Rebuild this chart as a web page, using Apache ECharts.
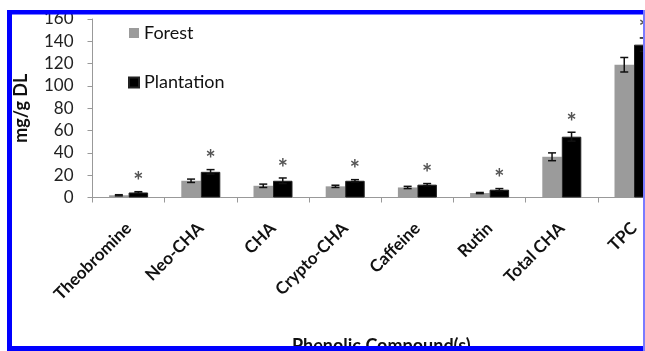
<!DOCTYPE html>
<html>
<head>
<meta charset="utf-8">
<script src="https://cdn.jsdelivr.net/npm/echarts@6/dist/echarts.min.js"></script>
<style>
  html, body { margin: 0; padding: 0; background: #fff; }
  #chart { width: 645px; height: 351px; }
</style>
</head>
<body>
<div id="chart"></div>
<script>
// Phenolic compounds, mg/g DL, forest vs plantation (mean ± error)
const categories = ['Theobromine', 'Neo-CHA', 'CHA', 'Crypto-CHA', 'Caffeine', 'Rutin', 'Total CHA', 'TPC'];
const forest = [2, 15, 10.5, 10, 9, 4, 36.5, 119];
const plantation = [4.5, 23, 15, 15, 11.5, 7, 54.5, 137];
const forestErr = [0.5, 1.5, 1.5, 1, 1, 0.5, 3.5, 6.5];
const plantationErr = [0.7, 2, 2.5, 1, 1, 1, 4, 6];
// '*' marks a significant difference between the two sources
const significant = [true, true, true, true, true, true, true, true];
const yTicks = [0, 20, 40, 60, 80, 100, 120, 140, 160];

const BAR_W = 19.5;
const FONT = 'Lato, "Open Sans", sans-serif';

function errorBars(values, errs, offset) {
  return {
    type: 'custom',
    name: 'err',
    z: 5,
    data: values.map((v, i) => [i, v, errs[i]]),
    encode: { x: 0, y: 1 },
    renderItem(params, api) {
      const i = api.value(0), v = api.value(1), e = api.value(2);
      const x = api.coord([i, v])[0] + offset;
      const top = api.coord([i, v + e])[1];
      const bot = api.coord([i, v - e])[1];
      const cap = 4;
      const style = { stroke: '#111', lineWidth: 1.5 };
      return {
        type: 'group',
        children: [
          { type: 'line', shape: { x1: x, y1: top, x2: x, y2: bot }, style },
          { type: 'line', shape: { x1: x - cap, y1: top, x2: x + cap, y2: top }, style },
          { type: 'line', shape: { x1: x - cap, y1: bot, x2: x + cap, y2: bot }, style }
        ]
      };
    }
  };
}

const stars = {
  type: 'custom',
  name: 'sig',
  z: 6,
  data: plantation.map((v, i) => [i, v + plantationErr[i], significant[i] ? 1 : 0]),
  encode: { x: 0, y: 1 },
  renderItem(params, api) {
    if (!api.value(2)) return null;
    const p = api.coord([api.value(0), api.value(1)]);
    return {
      type: 'text',
      x: p[0] + BAR_W / 2,
      y: p[1] - 21,
      style: { text: '*', fill: '#555', font: 'bold 24px ' + FONT, align: 'center', verticalAlign: 'top' }
    };
  }
};

const blue = '#0000ff';
const chart = echarts.init(document.getElementById('chart'));
chart.setOption({
  animation: false,
  backgroundColor: '#fff',
  grid: { left: 92.5, top: 19, width: 577.6, height: 178.5, containLabel: false, outerBoundsMode: 'none' },
  legend: {
    data: ['Forest', 'Plantation'],
    orient: 'vertical',
    left: 123,
    top: 18,
    itemWidth: 10,
    itemHeight: 10,
    itemGap: 29.5,
    icon: 'rect',
    textStyle: { fontFamily: FONT, fontSize: 18, color: '#111', lineHeight: 20 }
  },
  xAxis: {
    type: 'category',
    data: categories,
    name: 'Phenolic Compound(s)',
    nameLocation: 'middle',
    nameGap: 140,
    nameTextStyle: { fontFamily: FONT, fontSize: 18, fontWeight: 'bold', color: '#111' },
    axisLine: { lineStyle: { color: '#999', width: 1 } },
    axisTick: { show: true, length: 5, lineStyle: { color: '#999' } },
    axisLabel: { rotate: 45, margin: 28, interval: 0, fontFamily: FONT, fontSize: 17, fontWeight: 'bold', color: '#111' }
  },
  yAxis: {
    type: 'value',
    min: yTicks[0],
    max: yTicks[yTicks.length - 1],
    interval: yTicks[1] - yTicks[0],
    name: 'mg/g DL',
    nameLocation: 'middle',
    nameGap: 62,
    nameTextStyle: { fontFamily: FONT, fontSize: 18, fontWeight: 'bold', color: '#111' },
    axisLine: { show: true, lineStyle: { color: '#999', width: 1 } },
    axisTick: { show: true, length: 5, lineStyle: { color: '#999' } },
    axisLabel: { margin: 19, fontFamily: FONT, fontSize: 17, color: '#222' },
    splitLine: { show: false }
  },
  series: [
    { type: 'bar', name: 'Forest', data: forest, barWidth: BAR_W, barGap: '0%', itemStyle: { color: '#9b9b9b' } },
    { type: 'bar', name: 'Plantation', data: plantation, barWidth: BAR_W, barGap: '0%', itemStyle: { color: '#000', borderColor: '#222', borderWidth: 1 } },
    errorBars(forest, forestErr, -BAR_W / 2),
    errorBars(plantation, plantationErr, BAR_W / 2),
    stars
  ],
  graphic: [
    { type: 'rect', z: 100, shape: { x: 0, y: 0, width: 645, height: 10 }, style: { fill: '#fff' } },
    { type: 'rect', z: 100, shape: { x: 0, y: 0, width: 7, height: 351 }, style: { fill: '#fff' } },
    { type: 'rect', z: 101, shape: { x: 7, y: 10, width: 5, height: 341 }, style: { fill: blue } },
    { type: 'rect', z: 101, shape: { x: 7, y: 10, width: 638, height: 4.5 }, style: { fill: blue } },
    { type: 'rect', z: 101, shape: { x: 7, y: 346, width: 638, height: 5 }, style: { fill: blue } },
    { type: 'rect', z: 101, shape: { x: 643, y: 10, width: 2, height: 341 }, style: { fill: '#7a7aff' } }
  ]
});
</script>
</body>
</html>
